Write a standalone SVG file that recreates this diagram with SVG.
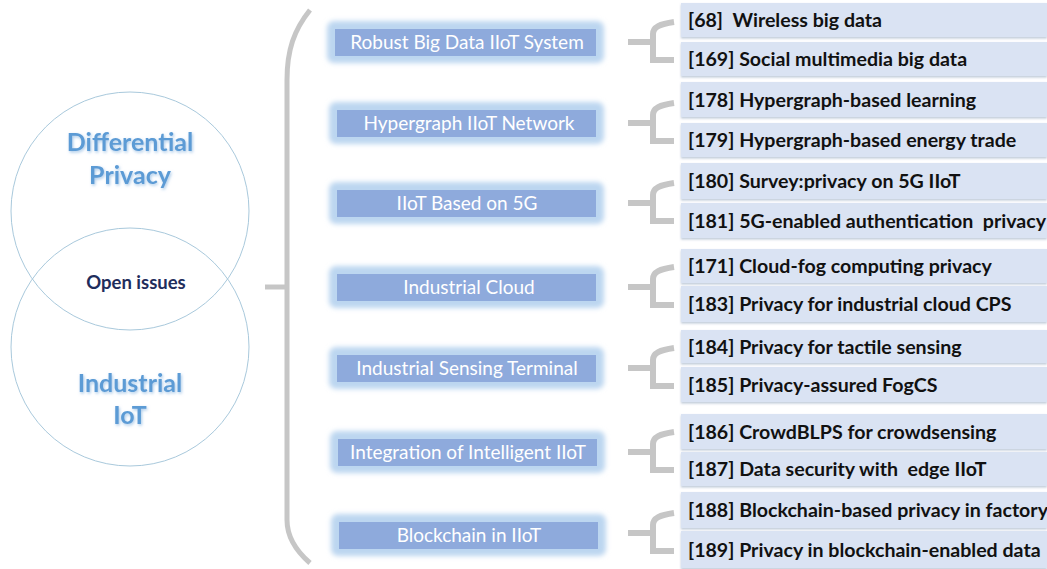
<svg xmlns="http://www.w3.org/2000/svg" width="1047" height="569" viewBox="0 0 1047 569">
<defs>
<filter id="glow" x="-10%" y="-40%" width="120%" height="180%"><feGaussianBlur stdDeviation="2.5"/></filter>
<filter id="tshadow" x="-10%" y="-20%" width="120%" height="150%"><feDropShadow dx="1" dy="1.5" stdDeviation="1.5" flood-color="#9fc3e6" flood-opacity="0.9"/></filter>
<filter id="bshadow" x="-2%" y="-10%" width="104%" height="130%"><feDropShadow dx="0" dy="1.5" stdDeviation="0.8" flood-color="#b8c4d4" flood-opacity="0.9"/></filter>
</defs>
<style>
.circ{fill:none;stroke:#a9c9dc;stroke-width:1}
.big{font-family:Lato,"Open Sans",sans-serif;font-weight:bold;font-size:25px;fill:#5b9bd5;text-anchor:middle}
.oi{font-family:Lato,"Open Sans",sans-serif;font-weight:bold;font-size:18.5px;fill:#1f2d5c;text-anchor:middle}
.glowr{fill:#bcd6f0;filter:url(#glow)}
.mid{fill:#8eaadc}
.mt{font-family:Lato,"Open Sans",sans-serif;font-size:19px;fill:#ffffff;text-anchor:middle}
.rb{fill:#dae3f3;filter:url(#bshadow)}
.rt{font-family:Lato,"Open Sans",sans-serif;font-weight:bold;font-size:19.6px;fill:#111111;white-space:pre}
.br{fill:none;stroke:#c6c6c6;stroke-width:5}
.sb{fill:none;stroke:#c6c6c6;stroke-width:6}
</style>
<g id="venn">
<circle class="circ" cx="130" cy="211" r="119"/>
<circle class="circ" cx="130" cy="347" r="119"/>
<text class="big" x="130" y="151" filter="url(#tshadow)">Differential</text>
<text class="big" x="130" y="184" filter="url(#tshadow)">Privacy</text>
<text class="big" x="130" y="392" filter="url(#tshadow)">Industrial</text>
<text class="big" x="130" y="424" filter="url(#tshadow)">IoT</text>
<text class="oi" x="136" y="289">Open issues</text>
</g>
<g id="connectors">
<path class="br" d="M310,10 C294,30 287,50 287,80 V520 C287,535 295,550 310,563"/>
<path class="br" d="M265,287 H287"/>
<path class="sb" d="M628,42 H652 M674,22 C660,24 653,27 653,34 V60 H674"/>
<path class="sb" d="M628,123 H652 M674,103 C660,105 653,108 653,115 V141 H674"/>
<path class="sb" d="M628,203 H652 M674,183 C660,185 653,188 653,195 V221 H674"/>
<path class="sb" d="M628,287 H652 M674,267 C660,269 653,272 653,279 V305 H674"/>
<path class="sb" d="M628,368 H652 M674,348 C660,350 653,353 653,360 V386 H674"/>
<path class="sb" d="M628,452 H652 M674,432 C660,434 653,437 653,444 V470 H674"/>
<path class="sb" d="M628,533 H652 M674,513 C660,515 653,518 653,525 V551 H674"/>
</g>
<g id="n1"><rect class="glowr" x="327" y="21" width="277" height="42" rx="7"/><rect class="mid" x="335" y="29" width="261" height="27"/><text class="mt" x="467" y="49">Robust Big Data IIoT System</text></g>
<g id="n2"><rect class="glowr" x="329" y="102" width="275" height="42" rx="7"/><rect class="mid" x="337" y="110" width="259" height="27"/><text class="mt" x="469" y="130">Hypergraph IIoT Network</text></g>
<g id="n3"><rect class="glowr" x="329" y="182" width="275" height="42" rx="7"/><rect class="mid" x="337" y="190" width="259" height="27"/><text class="mt" x="467" y="210">IIoT Based on 5G</text></g>
<g id="n4"><rect class="glowr" x="329" y="266" width="275" height="42" rx="7"/><rect class="mid" x="337" y="274" width="259" height="27"/><text class="mt" x="469" y="294">Industrial Cloud</text></g>
<g id="n5"><rect class="glowr" x="329" y="347" width="275" height="42" rx="7"/><rect class="mid" x="337" y="355" width="259" height="27"/><text class="mt" x="467" y="375">Industrial Sensing Terminal</text></g>
<g id="n6"><rect class="glowr" x="330" y="431" width="275" height="42" rx="7"/><rect class="mid" x="338" y="439" width="259" height="27"/><text class="mt" x="468" y="459">Integration of Intelligent IIoT</text></g>
<g id="n7"><rect class="glowr" x="331" y="514" width="275" height="42" rx="7"/><rect class="mid" x="339" y="522" width="259" height="27"/><text class="mt" x="469" y="542">Blockchain in IIoT</text></g>
<g id="r1"><rect class="rb" x="681" y="3" width="366" height="34"/><text class="rt" x="688" y="27">[68]  Wireless big data</text></g>
<g id="r2"><rect class="rb" x="681" y="42" width="366" height="34"/><text class="rt" x="688" y="66">[169] Social multimedia big data</text></g>
<g id="r3"><rect class="rb" x="681" y="82" width="366" height="35"/><text class="rt" x="688" y="107">[178] Hypergraph-based learning</text></g>
<g id="r4"><rect class="rb" x="681" y="123" width="366" height="34"/><text class="rt" x="688" y="147">[179] Hypergraph-based energy trade</text></g>
<g id="r5"><rect class="rb" x="681" y="163" width="366" height="36"/><text class="rt" x="688" y="188">[180] Survey:privacy on 5G IIoT</text></g>
<g id="r6"><rect class="rb" x="681" y="203" width="366" height="35"/><text class="rt" x="688" y="228">[181] 5G-enabled authentication  privacy</text></g>
<g id="r7"><rect class="rb" x="681" y="249" width="366" height="34"/><text class="rt" x="688" y="273">[171] Cloud-fog computing privacy</text></g>
<g id="r8"><rect class="rb" x="681" y="286" width="366" height="36"/><text class="rt" x="688" y="311">[183] Privacy for industrial cloud CPS</text></g>
<g id="r9"><rect class="rb" x="681" y="330" width="366" height="33"/><text class="rt" x="688" y="354">[184] Privacy for tactile sensing</text></g>
<g id="r10"><rect class="rb" x="681" y="367" width="366" height="35"/><text class="rt" x="688" y="392">[185] Privacy-assured FogCS</text></g>
<g id="r11"><rect class="rb" x="681" y="414" width="366" height="35"/><text class="rt" x="688" y="439">[186] CrowdBLPS for crowdsensing</text></g>
<g id="r12"><rect class="rb" x="681" y="452" width="366" height="34"/><text class="rt" x="688" y="476">[187] Data security with  edge IIoT</text></g>
<g id="r13"><rect class="rb" x="681" y="492" width="366" height="36"/><text class="rt" x="688" y="517">[188] Blockchain-based privacy in factory</text></g>
<g id="r14"><rect class="rb" x="681" y="531" width="366" height="37"/><text class="rt" x="688" y="557">[189] Privacy in blockchain-enabled data</text></g>
</svg>
